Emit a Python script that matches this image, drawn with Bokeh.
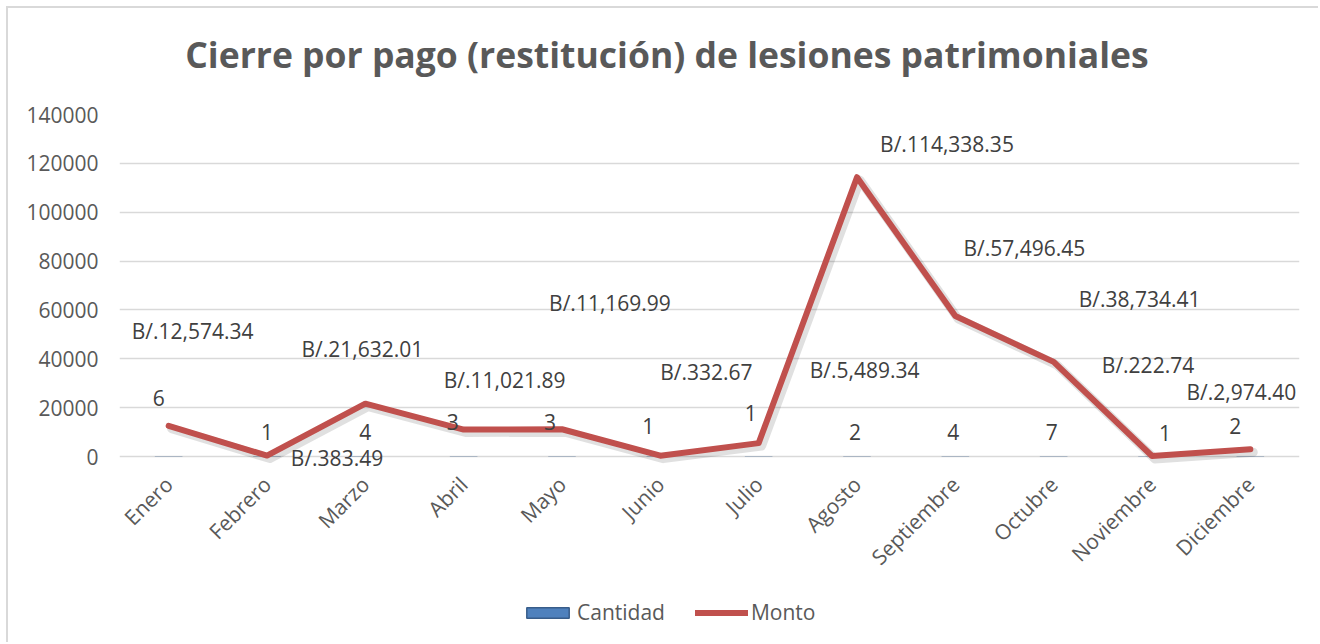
from bokeh.plotting import figure
from bokeh.layouts import column
from bokeh.models import (ColumnDataSource, LabelSet, Legend, LegendItem,
                          FixedTicker, Div, FactorRange)
from bokeh.transform import dodge
from bokeh.core.properties import value
from bokeh.embed import file_html
from bokeh.resources import INLINE

# ---- data ----
meses = ["Enero", "Febrero", "Marzo", "Abril", "Mayo", "Junio", "Julio",
         "Agosto", "Septiembre", "Octubre", "Noviembre", "Diciembre"]
cantidad = [6, 1, 4, 3, 3, 1, 1, 2, 4, 7, 1, 2]
monto = [12574.34, 383.49, 21632.01, 11021.89, 11169.99, 332.67, 5489.34,
         114338.35, 57496.45, 38734.41, 222.74, 2974.40]
y_ticks = [0, 20000, 40000, 60000, 80000, 100000, 120000, 140000]
titulo = "Cierre por pago (restitución) de lesiones patrimoniales"

# ---- label placement (screen px offsets, Excel-style manual placement) ----
monto_dx = [24, 70, -3, 41, 48, 46, 106, 90, 69, 86, -4, -9]
monto_dy = [95, -2, 55, 50, 126, 84, 73, 33, 68, 63, 91, 57]
cant_dx = [-10, 0, 0, -11, -12, -12, -8, -2, -2, -2, 13, -15]
cant_dy = [59, 25, 25, 35, 35, 31, 44, 25, 25, 25, 24, 31]

FONT = "Open Sans"
GREY = "#595959"
LABEL = "#404040"
BAR_FILL, BAR_LINE = "#4f81bd", "#385d8a"
LINE_COLOR = "#c0504d"
W = 1310

monto_txt = ["B/.{:,.2f}".format(v) for v in monto]
cant_txt = [str(v) for v in cantidad]

src = ColumnDataSource(dict(mes=meses, cantidad=cantidad, monto=monto,
                            monto_txt=monto_txt, cant_txt=cant_txt,
                            mdx=monto_dx, mdy=monto_dy, cdx=cant_dx, cdy=cant_dy,
                            zero=[0] * len(meses)))

# ---- title ----
title = Div(text=titulo, width=W, height=93, margin=0,
            styles={"font-family": "'Open Sans'", "font-weight": "bold",
                    "font-size": "35.5px", "color": GREY,
                    "text-align": "center", "line-height": "93px",
                    "padding-left": "8px", "box-sizing": "border-box",
                    "width": f"{W}px"})

# ---- main chart ----
p = figure(x_range=meses, y_range=(-4900, 140000), width=W, height=487,
           output_backend="svg", toolbar_location=None,
           min_border_left=111, min_border_right=19, min_border_top=13,
           min_border_bottom=120)

p.outline_line_color = None
p.xgrid.grid_line_color = None
p.ygrid.grid_line_color = "#d9d9d9"
p.ygrid.grid_line_width = 1.5
p.yaxis.ticker = FixedTicker(ticks=y_ticks)

for ax in (p.xaxis, p.yaxis):
    ax.axis_line_color = None
    ax.major_tick_line_color = None
    ax.minor_tick_line_color = None
    ax.major_label_text_font = FONT
    ax.major_label_text_font_size = "21px"
    ax.major_label_text_color = GREY
p.yaxis.major_label_standoff = 15
p.yaxis.formatter.use_scientific = False
p.xaxis.major_label_orientation = 0.785398
p.xaxis.major_label_standoff = 6

p.vbar(x="mes", top="cantidad", width=0.28, source=src,
       fill_color=BAR_FILL, line_color=BAR_LINE, line_width=1, line_alpha=0.15)

# soft shadow under the line
p.line(x=dodge("mes", 0.03, range=p.x_range), y=dodge("monto", -1200), source=src,
       line_color="black", line_alpha=0.12, line_width=9,
       line_join="round", line_cap="round")
p.line(x="mes", y="monto", source=src, line_color=LINE_COLOR, line_width=6,
       line_join="round", line_cap="round")

p.add_layout(LabelSet(x="mes", y="monto", text="monto_txt", source=src,
                      x_offset="mdx", y_offset="mdy",
                      text_align="center", text_baseline="middle",
                      text_font=value(FONT), text_font_size="21px",
                      text_color=LABEL))
p.add_layout(LabelSet(x="mes", y="zero", text="cant_txt", source=src,
                      x_offset="cdx", y_offset="cdy",
                      text_align="center", text_baseline="middle",
                      text_font=value(FONT), text_font_size="21px",
                      text_color=LABEL))

# ---- legend strip below the chart (series keys only; marks fall off its range) ----
q = figure(width=W, height=54, output_backend="svg", toolbar_location=None,
           min_border=0, x_range=FactorRange(factors=["leyenda"]), y_range=(0, 1))
q.axis.visible = False
q.grid.grid_line_color = None
q.outline_line_color = None
leg_bar = q.vbar(x="mes", top="cantidad", width=0.28, source=src,
                 fill_color=BAR_FILL, line_color=BAR_LINE, line_width=1.5)
leg_line = q.line(x="mes", y="monto", source=src, line_color=LINE_COLOR,
                  line_width=6, line_cap="round")
legend = Legend(items=[LegendItem(label="Cantidad", renderers=[leg_bar]),
                       LegendItem(label="Monto", renderers=[leg_line])],
                orientation="horizontal", location=(402, 16),
                glyph_width=53, glyph_height=13, label_standoff=3, spacing=30,
                padding=0, margin=0, border_line_color=None,
                background_fill_alpha=0,
                label_text_font=FONT, label_text_font_size="21px",
                label_text_color=GREY)
q.add_layout(legend, "center")

layout = column(title, p, q, spacing=0)
layout.styles = {"position": "relative", "left": "6px", "top": "6px",
                 "border-top": "2px solid #d9d9d9",
                 "border-left": "2px solid #d9d9d9"}

open("out.html", "w").write(file_html(layout, INLINE))
